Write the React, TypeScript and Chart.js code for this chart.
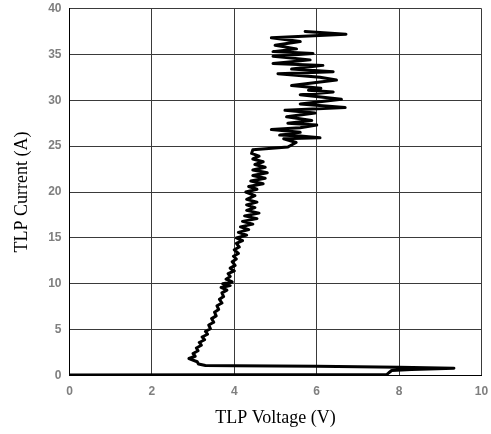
import React, { useEffect, useRef } from "react";
import { Chart, registerables } from "chart.js";

Chart.register(...registerables);

const voltage: number[] = [
  0, 7.7, 7.75, 7.82, 8.3, 9.33, 8.0, 6.0, 4.0, 3.3, 3.13, 3.1, 2.9,
  3.05, 3.0, 3.12, 3.08, 3.2, 3.15, 3.28, 3.22, 3.35, 3.3, 3.42, 3.38, 3.5, 3.45, 3.56, 3.52, 3.62, 3.58, 3.7,
  3.64, 3.74, 3.7, 3.82, 3.68, 3.9, 3.72, 3.95, 3.8, 3.9, 3.85, 4.0, 3.9, 4.02, 3.95, 4.05, 3.98, 4.1, 4.0,
  4.12, 4.05, 4.2, 4.05, 4.3, 4.1, 4.35, 4.15, 4.45, 4.2, 4.55, 4.25, 4.6, 4.3, 4.5, 4.3, 4.55, 4.3, 4.5,
  4.28, 4.55, 4.35, 4.7, 4.4, 4.75, 4.45, 4.8, 4.45, 4.75, 4.5, 4.7, 4.45, 4.6, 4.42, 4.45, 5.3, 5.5,
  5.2, 6.08, 5.6, 5.1, 5.6, 4.9, 5.6, 6.0, 5.3, 5.88, 5.27, 5.96, 5.23, 6.69, 5.6, 6.6, 5.6, 6.4, 5.8,
  6.1, 5.39, 6.48, 6.08, 5.06, 6.4, 5.39, 6.15, 4.94, 5.84, 4.94, 5.91, 4.94, 5.51, 4.99, 5.6, 4.9,
  6.71, 5.72,
];

const current: number[] = [
  0.05, 0.1, 0.3, 0.55, 0.65, 0.8, 0.9, 1.0, 1.05, 1.1, 1.25, 1.5, 1.85,
  2.1, 2.4, 2.7, 3.0, 3.3, 3.6, 3.9, 4.2, 4.5, 4.8, 5.1, 5.5, 5.8, 6.2, 6.5, 6.9, 7.2, 7.6, 7.9,
  8.3, 8.6, 9.0, 9.3, 9.6, 9.8, 10.0, 10.2, 10.5, 10.8, 11.1, 11.4, 11.7, 12.0, 12.4, 12.7, 13.0, 13.3, 13.7,
  14.0, 14.4, 14.7, 15.0, 15.3, 15.6, 15.9, 16.2, 16.5, 16.8, 17.1, 17.4, 17.7, 18.0, 18.3, 18.6, 18.9, 19.2, 19.6,
  20.0, 20.3, 20.6, 20.9, 21.2, 21.5, 21.8, 22.1, 22.4, 22.7, 23.0, 23.3, 23.6, 23.9, 24.2, 24.6, 24.9, 25.4,
  25.8, 25.9, 26.1, 26.2, 26.5, 26.8, 27.0, 27.3, 27.5, 27.8, 28.2, 28.6, 28.9, 29.2, 29.6, 30.1, 30.6, 30.9, 31.1,
  31.3, 31.6, 32.2, 32.5, 32.9, 33.1, 33.4, 33.8, 34.0, 34.4, 34.8, 35.1, 35.3, 35.6, 36.0, 36.4, 36.8,
  37.2, 37.5,
];

const xTicks: number[] = [0, 2, 4, 6, 8, 10];
const yTicks: number[] = [0, 5, 10, 15, 20, 25, 30, 35, 40];

const xTitle = "TLP Voltage (V)";
const yTitle = "TLP Current (A)";

export default function App() {
  const ref = useRef<HTMLCanvasElement | null>(null);

  useEffect(() => {
    if (!ref.current) return;
    const points = voltage.map((v, i) => ({ x: v, y: current[i] }));
    const tickFont = { family: "'Liberation Sans', Arial, sans-serif", size: 12, weight: "bold" as const };
    const titleFont = { family: "'Liberation Serif', 'Times New Roman', serif", size: 18 };
    const chart = new Chart(ref.current, {
      type: "scatter",
      data: {
        datasets: [
          {
            data: points,
            showLine: true,
            borderColor: "#000",
            backgroundColor: "#000",
            borderWidth: 3,
            pointRadius: 0,
            tension: 0,
            borderJoinStyle: "round",
            borderCapStyle: "round",
          },
        ],
      },
      options: {
        responsive: false,
        animation: false,
        layout: { padding: { left: 0, right: 9.5, top: 8.5, bottom: 0 } },
        plugins: { legend: { display: false }, tooltip: { enabled: false } },
        scales: {
          x: {
            type: "linear",
            min: 0,
            max: 10,
            afterBuildTicks: (s: any) => {
              s.ticks = xTicks.map((v) => ({ value: v }));
            },
            afterFit: (s: any) => {
              s.height = 58.5;
              s.paddingLeft = 0;
              s.paddingRight = 0;
            },
            ticks: { color: "#7f7f7f", font: tickFont, padding: 9 },
            grid: { color: "#3a3a3a", lineWidth: 1, drawTicks: false },
            border: { color: "#000", width: 1 },
            title: { display: true, text: xTitle, color: "#000", font: titleFont, padding: { top: 4, bottom: 5 } },
          },
          y: {
            type: "linear",
            min: 0,
            max: 40,
            afterBuildTicks: (s: any) => {
              s.ticks = yTicks.map((v) => ({ value: v }));
            },
            afterFit: (s: any) => {
              s.width = 69.5;
              s.paddingTop = 0;
              s.paddingBottom = 0;
            },
            ticks: { color: "#7f7f7f", font: tickFont, padding: 8 },
            grid: { color: "#3a3a3a", lineWidth: 1, drawTicks: false },
            border: { color: "#000", width: 1 },
            title: { display: true, text: yTitle, color: "#000", font: titleFont, padding: { top: 11.5, bottom: 0 } },
          },
        },
      },
    });
    return () => chart.destroy();
  }, []);

  return (
    <div style={{ position: "absolute", left: 0, top: 0, width: 491, height: 434, background: "#fff" }}>
      <canvas ref={ref} width={491} height={434} style={{ display: "block" }} />
    </div>
  );
}
